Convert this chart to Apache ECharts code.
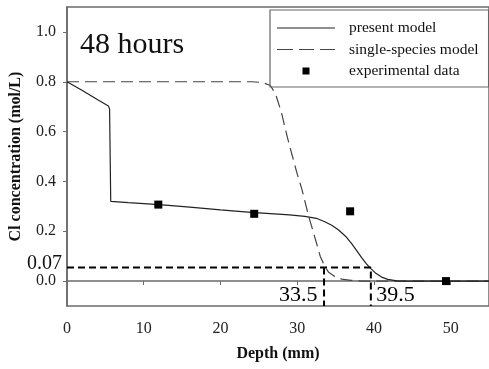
<!DOCTYPE html>
<html>
<head>
<meta charset="utf-8">
<script src="https://cdn.jsdelivr.net/npm/echarts@6/dist/echarts.min.js"></script>
<style>
html,body{margin:0;padding:0;background:#fff;}
#chart{width:489px;height:369px;}
</style>
</head>
<body>
<div id="chart"></div>
<script>
// ---- data ----
const presentX = [0, 2, 4, 5.4, 5.55, 5.7, 8, 12, 16, 20, 24, 27, 29, 31, 32.5, 33.6, 34.5, 35.4, 36.3, 37.1, 37.8, 38.4, 39, 39.6, 40.3, 41, 41.8, 43, 44, 55];
const presentY = [0.80, 0.765, 0.728, 0.703, 0.69, 0.32, 0.315, 0.307, 0.297, 0.286, 0.276, 0.270, 0.266, 0.260, 0.252, 0.238, 0.224, 0.205, 0.180, 0.150, 0.120, 0.094, 0.070, 0.050, 0.030, 0.016, 0.007, 0.001, 0, 0];
const singleX = [0, 24, 25.5, 26.5, 27.2, 28, 28.7, 29.3, 30, 30.6, 31.5, 32.4, 33, 33.5, 34.1, 34.9, 35.8, 37, 38.5, 55];
const singleY = [0.80, 0.80, 0.797, 0.785, 0.75, 0.67, 0.58, 0.51, 0.43, 0.37, 0.26, 0.165, 0.10, 0.065, 0.035, 0.018, 0.008, 0.003, 0, 0];
const expX = [11.9, 24.4, 36.9, 49.4];
const expY = [0.307, 0.270, 0.280, 0.0];
const guideLevel = 0.055;          // drawn level of the "0.07" guide line
const guideDepths = [33.5, 39.6];  // vertical guide lines
const guideLabels = ['33.5', '39.5'];
const xTicks = [0, 10, 20, 30, 40, 50];
const yTicks = [0, 0.2, 0.4, 0.6, 0.8, 1.0];
const yExtraLabel = 0.07;

const zip = (xs, ys) => xs.map((x, i) => [x, ys[i]]);
const FONT = 'Liberation Serif';

const iconSolid = 'path://M0,0M58,14M0,6.4h58v1.2h-58z';
const iconDashed = 'path://M0,0M58,14M0,6.4h16v1.2h-16zM22,6.4h15v1.2h-15zM43,6.4h15v1.2h-15z';
const iconSquare = 'path://M0,0M58,14M25.5,3.5h7v7h-7z';

const annLabel = {show: true, color: '#000', fontFamily: FONT, fontSize: 22, opacity: 1};

const chart = echarts.init(document.getElementById('chart'), null, {renderer: 'canvas'});
chart.setOption({
  animation: false,
  backgroundColor: '#fff',
  title: {
    text: '48 hours', left: 75, top: 25,
    textStyle: {fontFamily: FONT, fontSize: 30, fontWeight: 'normal', color: '#111'}
  },
  legend: {
    data: [
      {name: 'present model', icon: iconSolid},
      {name: 'single-species model', icon: iconDashed},
      {name: 'experimental data', icon: iconSquare}
    ],
    orient: 'vertical', left: 270, top: 10,
    padding: [10, 10, 8, 7],
    itemWidth: 58, itemHeight: 14, itemGap: 5.5,
    borderColor: '#666', borderWidth: 1.2,
    textStyle: {fontFamily: FONT, fontSize: 15.5, color: '#111', padding: [0, 0, 0, 9]}
  },
  grid: {left: 66.5, right: -4, top: 7, bottom: 63, show: true, borderColor: '#6a6a6a', borderWidth: 1.5},
  xAxis: {
    type: 'value', min: 0, max: 55, interval: 10,
    name: 'Depth (mm)', nameLocation: 'middle', nameGap: 40,
    nameTextStyle: {fontFamily: FONT, fontSize: 16, fontWeight: 'bold', color: '#111'},
    axisLine: {lineStyle: {color: '#6a6a6a', width: 1.5}},
    axisTick: {show: true, length: 4, customValues: xTicks, lineStyle: {color: '#6a6a6a'}},
    axisLabel: {customValues: xTicks, margin: 15, fontFamily: FONT, fontSize: 16, color: '#222'},
    splitLine: {show: false}
  },
  yAxis: [{
    type: 'value', min: -0.1, max: 1.1,
    name: 'Cl concentration (mol/L)', nameLocation: 'middle', nameGap: 43,
    nameTextStyle: {fontFamily: FONT, fontSize: 16, fontWeight: 'bold', color: '#111'},
    axisLine: {show: true, lineStyle: {color: '#6a6a6a', width: 1.5}},
    axisTick: {show: true, length: 4, customValues: yTicks, lineStyle: {color: '#6a6a6a'}},
    axisLabel: {customValues: yTicks, margin: 11, fontFamily: FONT, fontSize: 16, color: '#222',
      formatter: v => v.toFixed(1)},
    splitLine: {show: false}
  }, {
    type: 'value', min: -0.1, max: 1.1, position: 'left',
    axisLine: {show: false}, axisTick: {show: false}, splitLine: {show: false},
    axisLabel: {customValues: [yExtraLabel], margin: 5, fontFamily: FONT, fontSize: 20, color: '#111',
      formatter: v => v.toFixed(2)}
  }],
  series: [
    {
      name: 'present model', type: 'line', data: zip(presentX, presentY),
      symbol: 'none', showSymbol: false, smooth: false,
      lineStyle: {color: '#222', width: 1.2}, itemStyle: {color: '#222'}, z: 3
    },
    {
      name: 'single-species model', type: 'line', data: zip(singleX, singleY),
      symbol: 'none', showSymbol: false, smooth: false,
      lineStyle: {color: '#444', width: 1.2, type: [12, 6]}, itemStyle: {color: '#444'}, z: 2
    },
    {
      name: 'experimental data', type: 'scatter', data: zip(expX, expY),
      symbol: 'rect', symbolSize: 8, itemStyle: {color: '#000', opacity: 1}, z: 5
    },
    {
      name: 'guideH', type: 'line', symbol: 'none', silent: true,
      data: [[0, guideLevel], [guideDepths[1], guideLevel], [guideDepths[1], -0.1]],
      lineStyle: {color: '#000', width: 2, type: [7, 4]}, z: 4
    },
    {
      name: 'guideV', type: 'line', symbol: 'none', silent: true,
      data: [[guideDepths[0], guideLevel], [guideDepths[0], -0.1]],
      lineStyle: {color: '#000', width: 2, type: [7, 4]}, z: 4
    },
    {
      name: 'guideText', type: 'scatter', symbolSize: 1, silent: true,
      itemStyle: {color: 'rgba(0,0,0,0)', opacity: 1},
      data: [
        {value: [guideDepths[0], -0.057], label: Object.assign({position: 'left', distance: 6, formatter: guideLabels[0]}, annLabel)},
        {value: [guideDepths[1], -0.057], label: Object.assign({position: 'right', distance: 5, formatter: guideLabels[1]}, annLabel)}
      ]
    }
  ]
});
</script>
</body>
</html>
